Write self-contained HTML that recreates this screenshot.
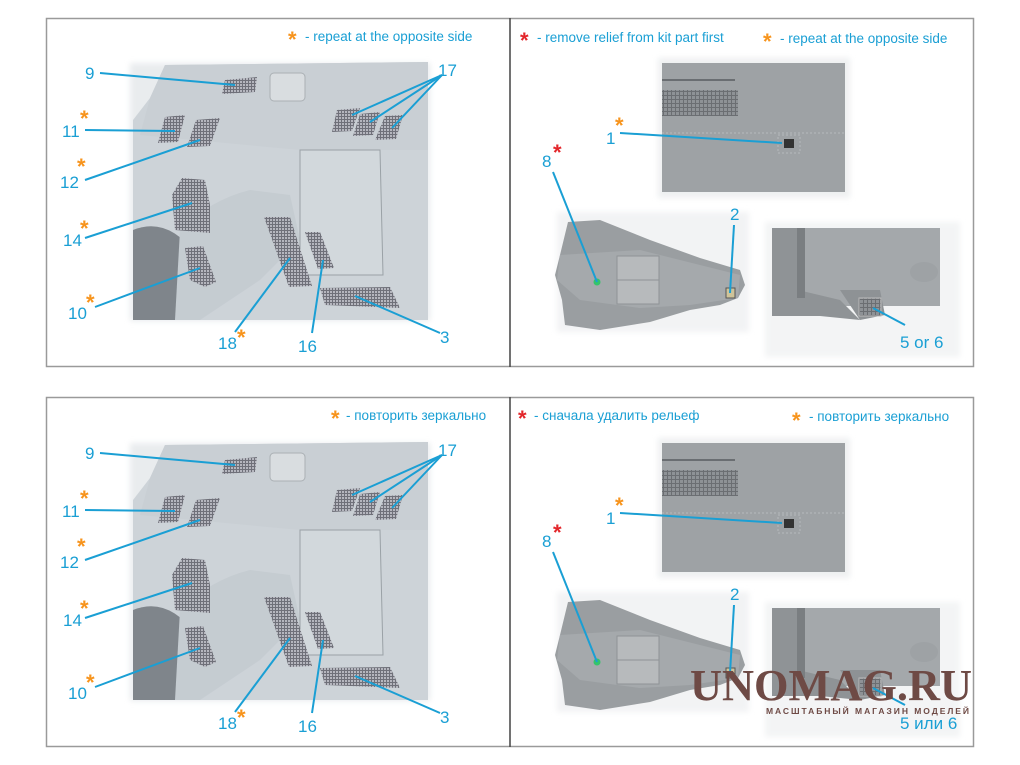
<!DOCTYPE html>
<html><head><meta charset="utf-8"><style>
html,body{margin:0;padding:0;background:#fff}
svg{display:block}
text{font-family:"Liberation Sans","Noto Sans CJK SC",sans-serif}
.l{fill:#1a9fd4;font-size:17px}
.s{fill:#1a9fd4;font-size:13.5px}
.o{fill:#f7941d;font-size:22px;font-weight:bold}
.r{fill:#e3262b;font-size:22px;font-weight:bold}
.ln{stroke:#1a9fd4;stroke-width:2;fill:none}
</style></head><body>
<svg width="1020" height="765" viewBox="0 0 1020 765" xmlns="http://www.w3.org/2000/svg">
<defs>
<pattern id="mesh" width="3" height="3" patternUnits="userSpaceOnUse">
<rect width="3" height="3" fill="#6f7079"/><rect width="2" height="2" fill="#b5b6be"/></pattern>
<pattern id="mesh2" width="4" height="4" patternUnits="userSpaceOnUse">
<rect width="4" height="4" fill="#6b6e72"/><rect width="3" height="3" fill="#8e9296"/></pattern>
<filter id="bl"><feGaussianBlur stdDeviation="3"/></filter>
<g id="leftArt">
<rect x="130" y="63" width="300" height="258" fill="#e9ecee" filter="url(#bl)"/>
<polygon points="165,65 428,62 428,320 133,320 133,120 150,98" fill="#cdd3d8"/>
<polygon points="165,65 428,62 428,150 300,150 140,135 150,98" fill="#c9cfd4"/>
<path d="M133,230 Q170,215 200,260 L200,320 L133,320Z" fill="#7f858b"/>
<path d="M180,230 Q210,200 250,190 L290,195 L300,240 L260,280 L200,320 L175,320Z" fill="#c5ccd1"/>
<path d="M300,150 L380,150 L383,275 L300,275Z" fill="#d2d8dc" stroke="#9aa1a6" stroke-width="1"/>
<rect x="270" y="73" width="35" height="28" rx="4" fill="#d9dde0" stroke="#aab0b4"/>
<polygon points="225,80 257,77 255,92 222,94" fill="url(#mesh)"/>
<polygon points="165,117 185,115 178,142 158,143" fill="url(#mesh)"/>
<polygon points="196,120 220,118 210,146 187,147" fill="url(#mesh)"/>
<polygon points="337,110 360,108 352,131 332,132" fill="url(#mesh)"/>
<polygon points="360,114 380,112 373,135 353,136" fill="url(#mesh)"/>
<polygon points="385,116 403,115 396,139 375,140" fill="url(#mesh)"/>
<polygon points="182,178 205,180 210,205 210,233 175,230 172,195" fill="url(#mesh)"/>
<polygon points="185,248 203,246 216,282 205,287 190,280" fill="url(#mesh)"/>
<polygon points="264,217 290,217 312,286 289,287" fill="url(#mesh)"/>
<polygon points="305,232 320,232 334,268 318,269" fill="url(#mesh)"/>
<polygon points="320,288 390,287 400,308 325,305" fill="url(#mesh)"/>
</g>
<g id="rightArt">
<rect x="658" y="58" width="192" height="140" fill="#eef0f1" filter="url(#bl)"/>
<rect x="662" y="63" width="183" height="129" fill="#9ea2a5"/>
<rect x="662" y="90" width="76" height="26" fill="url(#mesh2)"/>
<line x1="662" y1="80" x2="735" y2="80" stroke="#6a6e72" stroke-width="2"/>
<line x1="662" y1="133" x2="845" y2="133" stroke="#b6babd" stroke-width="1" stroke-dasharray="2 2"/>
<rect x="778" y="135" width="22" height="18" fill="none" stroke="#b6babd" stroke-dasharray="2 2"/>
<rect x="784" y="139" width="10" height="9" fill="#333"/>
<rect x="557" y="212" width="192" height="120" fill="#f2f3f4" filter="url(#bl)"/>
<polygon points="568,222 600,220 650,240 700,258 740,270 745,285 738,298 720,305 690,310 650,322 600,330 565,325 562,300 555,275 560,255" fill="#9a9ea1"/>
<polygon points="560,255 640,250 700,265 740,275 738,298 690,305 640,308 580,300 557,280" fill="#a5a9ac"/>
<rect x="617" y="256" width="42" height="24" fill="#b7babc" stroke="#8f9396"/>
<rect x="617" y="280" width="42" height="24" fill="#b7babc" stroke="#8f9396"/>
<circle cx="597" cy="282" r="3.5" fill="#35c46a"/>
<rect x="726" y="288" width="9" height="10" fill="#cfc49a" stroke="#555"/>
<rect x="765" y="222" width="195" height="135" fill="#f3f4f5" filter="url(#bl)"/>
<rect x="772" y="228" width="168" height="78" fill="#a4a8ab"/>
<polygon points="772,228 798,228 798,290 840,300 860,320 820,316 772,316" fill="#8f9396"/>
<rect x="797" y="228" width="8" height="70" fill="#7a7e81"/>
<polygon points="840,290 880,290 885,315 860,320" fill="#8e9295"/>
<ellipse cx="924" cy="272" rx="14" ry="10" fill="#9ea2a5"/>
<rect x="859" y="298" width="22" height="18" fill="url(#mesh2)" stroke="#bbb"/>
</g>
</defs>

<!-- panel borders -->
<rect x="46.5" y="18.5" width="927" height="348" fill="none" stroke="#9a9a9a" stroke-width="1.5"/>
<line x1="510" y1="18" x2="510" y2="367" stroke="#444" stroke-width="1.5"/>
<rect x="46.5" y="397.5" width="927" height="349" fill="none" stroke="#9a9a9a" stroke-width="1.5"/>
<line x1="510" y1="397" x2="510" y2="747" stroke="#444" stroke-width="1.5"/>

<use href="#leftArt"/>
<use href="#rightArt"/>
<use href="#leftArt" transform="translate(0,380)"/>
<use href="#rightArt" transform="translate(0,380)"/>

<!-- top-left labels -->
<text class="o" x="288" y="47">*</text><text class="s" x="305" y="41">- repeat at the opposite side</text>
<g class="ln">
<line x1="100" y1="73" x2="235" y2="85"/><line x1="85" y1="130" x2="175" y2="131"/>
<line x1="85" y1="180" x2="200" y2="140"/><line x1="85" y1="238" x2="192" y2="203"/>
<line x1="95" y1="307" x2="200" y2="268"/><line x1="235" y1="332" x2="290" y2="258"/>
<line x1="312" y1="333" x2="323" y2="260"/><line x1="440" y1="333" x2="355" y2="296"/>
<line x1="442" y1="75" x2="352" y2="115"/><line x1="442" y1="75" x2="370" y2="122"/><line x1="442" y1="75" x2="392" y2="128"/>
</g>
<text class="l" x="85" y="79">9</text><text class="l" x="438" y="76">17</text>
<text class="l" x="62" y="137">11</text><text class="o" x="80" y="126">*</text>
<text class="l" x="60" y="188">12</text><text class="o" x="77" y="174">*</text>
<text class="l" x="63" y="246">14</text><text class="o" x="80" y="236">*</text>
<text class="l" x="68" y="319">10</text><text class="o" x="86" y="310">*</text>
<text class="l" x="218" y="349">18</text><text class="o" x="237" y="345">*</text>
<text class="l" x="298" y="352">16</text><text class="l" x="440" y="343">3</text>

<!-- top-right labels -->
<text class="r" x="520" y="48">*</text><text class="s" x="537" y="42">- remove relief from kit part first</text>
<text class="o" x="763" y="49">*</text><text class="s" x="780" y="43">- repeat at the opposite side</text>
<g class="ln"><line x1="620" y1="133" x2="782" y2="143"/><line x1="553" y1="172" x2="597" y2="282"/>
<line x1="734" y1="225" x2="730" y2="293"/><line x1="905" y1="325" x2="873" y2="308"/></g>
<text class="l" x="606" y="144">1</text><text class="o" x="615" y="133">*</text>
<text class="l" x="542" y="167">8</text><text class="r" x="553" y="160">*</text>
<text class="l" x="730" y="220">2</text><text class="l" x="900" y="348">5 or 6</text>

<!-- bottom-left labels -->
<text class="o" x="331" y="426">*</text><text class="s" x="346" y="420">- повторить зеркально</text>
<g class="ln" transform="translate(0,380)">
<line x1="100" y1="73" x2="235" y2="85"/><line x1="85" y1="130" x2="175" y2="131"/>
<line x1="85" y1="180" x2="200" y2="140"/><line x1="85" y1="238" x2="192" y2="203"/>
<line x1="95" y1="307" x2="200" y2="268"/><line x1="235" y1="332" x2="290" y2="258"/>
<line x1="312" y1="333" x2="323" y2="260"/><line x1="440" y1="333" x2="355" y2="296"/>
<line x1="442" y1="75" x2="352" y2="115"/><line x1="442" y1="75" x2="370" y2="122"/><line x1="442" y1="75" x2="392" y2="128"/>
</g>
<text class="l" x="85" y="459">9</text><text class="l" x="438" y="456">17</text>
<text class="l" x="62" y="517">11</text><text class="o" x="80" y="506">*</text>
<text class="l" x="60" y="568">12</text><text class="o" x="77" y="554">*</text>
<text class="l" x="63" y="626">14</text><text class="o" x="80" y="616">*</text>
<text class="l" x="68" y="699">10</text><text class="o" x="86" y="690">*</text>
<text class="l" x="218" y="729">18</text><text class="o" x="237" y="725">*</text>
<text class="l" x="298" y="732">16</text><text class="l" x="440" y="723">3</text>

<!-- bottom-right labels -->
<text class="r" x="518" y="426">*</text><text class="s" x="534" y="420">- сначала удалить рельеф</text>
<text class="o" x="792" y="428">*</text><text class="s" x="809" y="421">- повторить зеркально</text>
<g class="ln" transform="translate(0,380)"><line x1="620" y1="133" x2="782" y2="143"/><line x1="553" y1="172" x2="597" y2="282"/>
<line x1="734" y1="225" x2="730" y2="293"/><line x1="905" y1="325" x2="873" y2="308"/></g>
<text class="l" x="606" y="524">1</text><text class="o" x="615" y="513">*</text>
<text class="l" x="542" y="547">8</text><text class="r" x="553" y="540">*</text>
<text class="l" x="730" y="600">2</text><text class="l" x="900" y="729">5 или 6</text>

<!-- watermark -->
<text x="690" y="700" fill="#6e4a45" font-family="Liberation Serif,serif" font-size="44" font-weight="bold" textLength="282" lengthAdjust="spacingAndGlyphs" style="font-family:'Liberation Serif',serif">UNOMAG.RU</text>
<text x="766" y="714" fill="#6e4a45" font-size="8.5" font-weight="bold" textLength="203" lengthAdjust="spacing">МАСШТАБНЫЙ МАГАЗИН МОДЕЛЕЙ</text>
</svg>
</body></html>
